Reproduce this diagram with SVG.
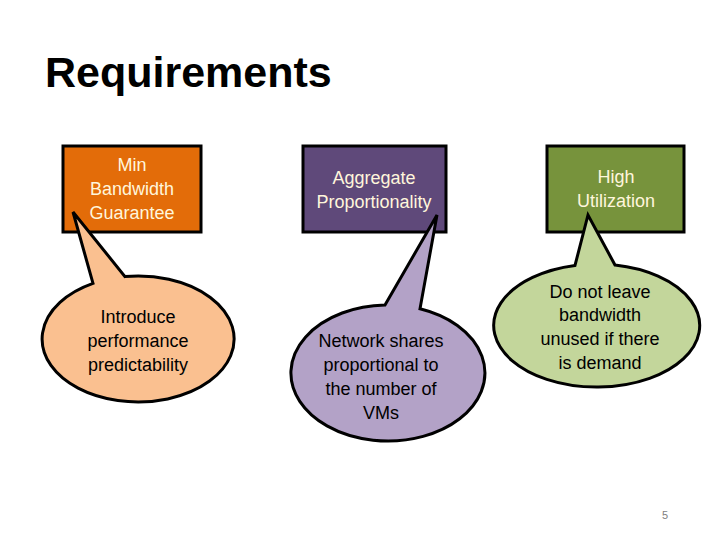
<svg xmlns="http://www.w3.org/2000/svg" width="720" height="540" viewBox="0 0 720 540">
<style>
.box{stroke:#000;stroke-width:3}
.bt{font-family:"Liberation Sans",Arial,sans-serif;font-size:18px;fill:#FFF6DC;text-anchor:middle}
.ct{font-family:"Liberation Sans",Arial,sans-serif;font-size:18px;fill:#000;text-anchor:middle}
.call{stroke:#000;stroke-width:3;stroke-linejoin:miter}
</style>
<rect width="720" height="540" fill="#fff"/>
<text x="45" y="87" font-family="Liberation Sans,Arial,sans-serif" font-weight="bold" font-size="43" fill="#000">Requirements</text>
<g id="min-bandwidth">
<rect class="box" x="63" y="146" width="138" height="86" fill="#E36C09"/>
<text class="bt" x="132" y="171">Min</text>
<text class="bt" x="132" y="195">Bandwidth</text>
<text class="bt" x="132" y="219">Guarantee</text>
</g>
<g id="aggregate">
<rect class="box" x="303" y="146" width="143" height="86" fill="#5F497A"/>
<text class="bt" x="374" y="184">Aggregate</text>
<text class="bt" x="374" y="208">Proportionality</text>
</g>
<g id="high-util">
<rect class="box" x="547" y="146" width="137" height="86" fill="#77933C"/>
<text class="bt" x="616" y="183">High</text>
<text class="bt" x="616" y="207">Utilization</text>
</g>
<g id="connectors">
<path class="call" fill="#FAC090" d="M 93 283.4 L 73 212 L 125 276.6 A 96 63 0 1 1 93 283.4 Z"/>
<path class="call" fill="#B3A2C7" d="M 385 305 L 437 215 L 420 308.8 A 97 68 0 1 1 385 305 Z"/>
<path class="call" fill="#C3D69B" d="M 575 265.4 L 588 215 L 615 265 A 103 61.5 0 1 1 575 265.4 Z"/>
</g>
<g id="callout-predictability">
<text class="ct" x="138" y="323">Introduce</text>
<text class="ct" x="138" y="347">performance</text>
<text class="ct" x="138" y="371">predictability</text>
</g>
<g id="callout-shares">
<text class="ct" x="381" y="347">Network shares</text>
<text class="ct" x="381" y="371">proportional to</text>
<text class="ct" x="381" y="395">the number of</text>
<text class="ct" x="381" y="419">VMs</text>
</g>
<g id="callout-unused">
<text class="ct" x="600" y="298">Do not leave</text>
<text class="ct" x="600" y="321">bandwidth</text>
<text class="ct" x="600" y="345">unused if there</text>
<text class="ct" x="600" y="369">is demand</text>
</g>
<text x="665" y="519" font-family="Liberation Sans,Arial,sans-serif" font-size="11" fill="#7F7F7F" text-anchor="middle">5</text>
</svg>
